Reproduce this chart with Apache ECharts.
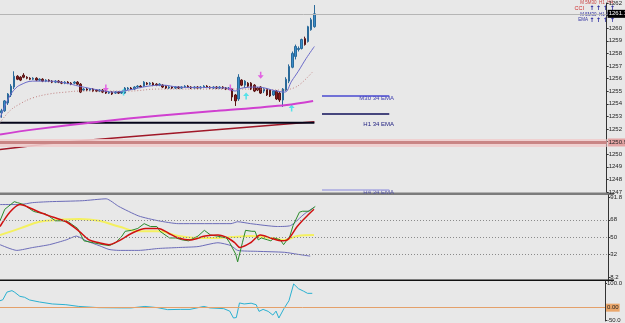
<!DOCTYPE html>
<html><head><meta charset="utf-8">
<script src="https://cdn.jsdelivr.net/npm/echarts@6/dist/echarts.min.js"></script>
<style>html,body{margin:0;padding:0;background:#e8e8e8;}#c{width:625px;height:323px;}</style>
</head><body><div id="c"></div>
<script>
// ---------- DATA ----------
const slotCount = 192;
// [open, close, low, high]
const candles = [
[1253.28,1253.44,1252.89,1253.60],[1253.44,1254.23,1253.36,1254.30],[1254.07,1254.78,1253.91,1254.85],[1254.70,1255.40,1254.54,1255.56],
[1255.33,1256.19,1255.17,1256.58],[1256.19,1255.95,1255.88,1256.27],[1256.11,1255.88,1255.80,1256.19],[1256.27,1256.11,1256.03,1256.43],
[1256.11,1256.03,1255.95,1256.19],[1256.03,1255.95,1255.88,1256.11],[1255.95,1256.03,1255.88,1256.11],[1256.03,1255.88,1255.80,1256.11],
[1255.88,1255.95,1255.80,1256.03],[1255.95,1255.80,1255.72,1256.03],[1255.80,1255.88,1255.72,1255.95],[1255.88,1255.80,1255.72,1255.95],
[1255.80,1255.72,1255.64,1255.88],[1255.72,1255.80,1255.64,1255.88],[1255.80,1255.72,1255.64,1255.88],[1255.72,1255.64,1255.56,1255.80],
[1255.64,1255.72,1255.56,1255.80],[1255.72,1255.64,1255.56,1255.80],[1255.64,1255.56,1255.48,1255.72],[1255.64,1255.72,1255.56,1255.80],
[1255.72,1255.56,1255.48,1255.80],[1255.56,1254.93,1254.85,1255.64],[1255.09,1255.17,1255.01,1255.25],[1255.17,1255.09,1255.01,1255.25],
[1255.09,1255.17,1255.01,1255.25],[1255.17,1255.01,1254.93,1255.25],[1255.09,1255.01,1254.93,1255.17],[1255.01,1255.09,1254.93,1255.17],
[1255.09,1254.93,1254.85,1255.17],[1255.01,1254.85,1254.78,1255.09],[1254.85,1254.93,1254.78,1255.01],[1254.93,1254.78,1254.70,1255.01],
[1254.85,1254.93,1254.78,1255.01],[1254.93,1254.85,1254.78,1255.01],[1254.85,1254.93,1254.78,1255.01],[1254.85,1255.25,1254.78,1255.33],
[1255.17,1255.25,1255.09,1255.33],[1255.25,1255.17,1255.09,1255.33],[1255.17,1255.33,1255.09,1255.40],[1255.33,1255.40,1255.25,1255.48],
[1255.40,1255.33,1255.25,1255.48],[1255.40,1255.72,1255.33,1255.80],[1255.64,1255.56,1255.48,1255.72],[1255.56,1255.64,1255.48,1255.72],
[1255.64,1255.48,1255.40,1255.72],[1255.56,1255.48,1255.40,1255.64],[1255.48,1255.56,1255.40,1255.64],[1255.48,1255.33,1255.25,1255.56],
[1255.40,1255.25,1255.17,1255.48],[1255.25,1255.33,1255.17,1255.40],[1255.33,1255.25,1255.17,1255.40],[1255.25,1255.33,1255.17,1255.40],
[1255.33,1255.25,1255.17,1255.40],[1255.25,1255.33,1255.17,1255.40],[1255.33,1255.40,1255.25,1255.48],[1255.40,1255.33,1255.25,1255.48],
[1255.33,1255.25,1255.17,1255.40],[1255.25,1255.33,1255.17,1255.40],[1255.33,1255.25,1255.17,1255.40],[1255.25,1255.33,1255.17,1255.40],
[1255.33,1255.40,1255.25,1255.48],[1255.40,1255.33,1255.25,1255.48],[1255.33,1255.25,1255.17,1255.40],[1255.25,1255.33,1255.17,1255.40],
[1255.33,1255.25,1255.17,1255.40],[1255.25,1255.33,1255.17,1255.40],[1255.33,1255.25,1255.17,1255.40],[1255.25,1255.17,1255.09,1255.33],
[1255.17,1255.25,1255.09,1255.33],[1255.17,1254.54,1254.23,1255.25],[1254.70,1254.23,1253.83,1254.78],[1254.38,1256.11,1254.23,1256.35],
[1255.88,1255.48,1255.40,1255.95],[1255.48,1255.80,1255.25,1255.88],[1255.64,1255.40,1255.33,1255.72],[1255.64,1255.17,1255.09,1255.72],
[1255.48,1255.01,1254.93,1255.56],[1255.25,1255.09,1255.01,1255.33],[1255.33,1254.85,1254.78,1255.40],[1255.01,1255.17,1254.85,1255.25],
[1255.17,1254.70,1254.62,1255.25],[1255.09,1254.62,1254.54,1255.17],[1254.70,1255.01,1254.62,1255.09],[1255.01,1254.38,1254.30,1255.09],
[1254.85,1254.30,1254.15,1254.93],[1254.30,1255.17,1253.75,1255.25],[1255.09,1255.95,1255.01,1256.11],[1255.80,1256.97,1255.64,1257.13],
[1256.90,1258.00,1256.82,1258.15],[1257.76,1258.55,1257.52,1258.70],[1258.31,1258.39,1258.15,1258.55],[1258.39,1259.10,1258.31,1259.17],
[1259.17,1258.70,1258.62,1259.33],[1258.94,1260.12,1258.86,1260.19],[1259.88,1260.67,1259.80,1260.82],[1260.12,1261.14,1260.04,1261.84]
];
const priceTicks = [1247,1248,1249,1250,1251,1252,1253,1254,1255,1256,1257,1258,1259,1260,1261,1262];
const currentPrice = 1261.14;
const redLevel = 1250.93;

const fastMaX = [-0.5,1.06,2.6,4.2,5.8,9.8,15.1,20.4,24.5,30.8,35.5,40.2,46.4,51.1,55.8,71.4,73.9,76.1,80.8,87.1,89.6,91.8,93.9,96.4,99];
const fastMaY = [1252.89,1253.83,1254.62,1255.17,1255.48,1255.80,1255.80,1255.64,1255.40,1255.09,1254.93,1255.09,1255.40,1255.48,1255.33,1255.25,1255.01,1255.25,1255.33,1255.01,1254.93,1255.80,1256.58,1257.60,1258.55];
const slowMaX = [-0.5,2.6,5.8,9.8,15.1,20.4,24.5,40.2,49.5,71.4,80.8,88.7,92.4,94.9,98.6];
const slowMaY = [1252.50,1253.44,1253.99,1254.46,1254.78,1254.93,1255.01,1255.01,1255.17,1255.17,1255.17,1255.09,1255.25,1255.64,1256.58];
const m30X = [-0.5,9.8,30.8,49.5,68.3,90.2,98.6];
const m30Y = [1251.56,1251.95,1252.58,1253.05,1253.44,1253.91,1254.23];
const blackX = [-0.5,99];
const blackY = [1252.50,1252.50];
const h4X = [-0.5,18.3,99];
const h4Y = [1250.38,1250.93,1252.58];
// arrows
const downArrowX = [33,72.4,82];
const downArrowY = [1255.25,1255.25,1256.27];
const upArrowX = [38.6,77.4,91.8];
const upArrowY = [1254.93,1254.62,1253.67];
// right side EMA level markers
const levelSegX = [101.4,122.7];
const levelM30 = 1254.62, levelH1 = 1253.20, levelH4 = 1247.16;
const levelNames = ['M30 34 EMA','H1 34 EMA','H4 34 EMA'];
// dashboard
const tfNames = 'M 5M30  H1  H4';
const arrowXs = [592, 598.5, 605.5, 612.5];

// TDI panel
const tdiTicks = [91.8,68,50,32,8.2];
const rsiX = [-0.5,1,4,5,7,10,11,14,17,19,21,24,26,29,32,34,36,38,39,41,43,45,47,49,50,53,55,57,59,62,64,66,68,71,72,73.9,74.5,76,77,79,80,81,82,84,85,86,88,89,91,92,94,95,97,99];
const rsiY = [67,79,87,86,84,77,76,74,67,67,66,59,46,44,42,41,44,51,56,57,59,64,61,61,56,49,49,47,46,51,57,52,51,49,44,32,24,44,57,56,56,47,49,47,46,49,47,42,51,62,76,77,77,82];
const sigX = [-0.5,2.6,5.8,7.9,12,16.1,20.4,24.5,27.6,30.8,33.9,37,41.1,45.5,49.5,52.7,55.8,59.8,64.2,68.3,71.4,73.6,75.2,78.6,81.7,84.9,88,90.2,93.3,96.4,98.6];
const sigY = [61,76,84,82,76,71,66,56,47,44,42,46,54,59,59,54,49,47,51,52,49,44,39,44,52,49,46,47,61,72,79];
const baseX = [-0.5,5.8,12,18.3,24.5,30.8,37,43.3,49.5,55.8,62,68.3,72.4,78.6,84.9,89.3,93.3,98.6];
const baseY = [52,59,66,68,69,67,61,56,56,51,49,49,50,51,49,47,51,52];
const upBandX = [-0.5,5.8,9.8,15.1,25.5,33,37,43.3,49.5,55.8,72.4,74.5,78.6,87.1,91.2,95.5,98.6];
const upBandY = [84,84,86,87,88,90,82,72,67,64,64,66,64,61,62,74,81];
const loBandX = [-0.5,4.8,9.8,15.1,20.4,23.6,26.7,30.8,33.9,37,43.3,49.5,55.8,62,68.3,72.4,74.5,80.8,89.3,93.3,97.4];
const loBandY = [42,36,39,42,47,51,46,41,37,36,36,38,39,40,44,41,36,35,34,32,30];

// CCI panel
const cciTicks = [100,-50];
const cciX = [-0.5,0.4,1.7,3.3,4.2,5.8,7.3,8.9,12,16.1,20.4,24.5,30.8,38,41.1,45.5,49.5,52.7,56.7,59.8,64.2,66.1,70.5,72.4,73.6,74.5,75.5,77,79.2,80.8,81.7,83,84.6,86.1,87.1,88,89.6,91.2,92.7,94.2,95.8,97.1,98.6];
const cciY = [28,32,63,69,62,46,42,31,23,15,12,5,0,-1,-1,5,0,-8,-7,-7,5,-1,-4,-14,-42,-40,19,15,18,12,-15,-7,-15,-30,-14,-42,-4,28,96,77,67,58,58];

// ---------- CHART ----------
const pairs = (xs, ys) => xs.map((x, i) => [x, ys[i]]);
const slots = Array.from({length: slotCount}, (_, i) => String(i));
const FONT = 'Liberation Sans';
const lbl = {fontSize: 6, color: '#222', fontFamily: FONT, margin: 2};
const gridLeft = 0, gridRight = 11;

const chart = echarts.init(document.getElementById('c'), null, {renderer: 'canvas'});
const valX = (gi) => ({type: 'value', gridIndex: gi, min: -0.5, max: slotCount - 0.5, show: false});
const downPath = 'path://M3,0 L5,0 L5,4 L8,4 L4,8 L0,4 L3,4 Z';
const upPath = 'path://M4,0 L8,4 L5,4 L5,8 L3,8 L3,4 L0,4 Z';
const axisLine = {show: true, onZero: false, lineStyle: {color: '#333', width: 1}};

const lineS = (xi, yi, data, color, width, extra) => Object.assign({
  type: 'line', xAxisIndex: xi, yAxisIndex: yi, data, symbol: 'none', silent: true,
  lineStyle: {color, width}, animation: false
}, extra || {});

const txt = (x, y, text, size, fill, align, extra) => ({type: 'text', x, y, silent: true,
  style: Object.assign({text, fontSize: size, fontFamily: FONT, fill, align: align || 'left', verticalAlign: 'middle'}, extra || {})});

const graphics = [
  {type: 'rect', shape: {x: 0, y: 192.5, width: 614, height: 2.5}, style: {fill: '#7c7c7c'}, silent: true},
  {type: 'rect', shape: {x: 0, y: 279.5, width: 614, height: 1.5}, style: {fill: '#111'}, silent: true},
  txt(394, 98, levelNames[0], 6, '#4040b0', 'right'),
  txt(394, 124, levelNames[1], 6, '#202080', 'right'),
  txt(394, 192, levelNames[2], 6, '#5050a0', 'right'),
  txt(613, 3, tfNames, 4.5, '#c84040', 'right'),
  txt(584, 8, 'CCI', 5.5, '#d03030', 'right'),
  txt(613, 15, tfNames, 4.5, '#3030a0', 'right'),
  txt(588, 20, 'EMA', 4.5, '#3030a0', 'right')
];
arrowXs.forEach(ax => {
  graphics.push(txt(ax, 8, '↑', 6, '#1a1a9a', 'center', {fontWeight: 'bold', fontFamily: 'DejaVu Sans'}));
  graphics.push(txt(ax, 20, '↑', 6, '#1a1a9a', 'center', {fontWeight: 'bold', fontFamily: 'DejaVu Sans'}));
});

const option = {
  backgroundColor: '#e8e8e8',
  animation: false,
  grid: [
    {left: gridLeft, right: gridRight, top: 1, height: 191},
    {left: gridLeft, right: gridRight, top: 195, height: 85},
    {left: gridLeft, right: gridRight, top: 281, height: 42}
  ],
  xAxis: [
    {type: 'category', gridIndex: 0, data: slots, boundaryGap: true, show: false},
    valX(0), valX(1), valX(2)
  ],
  yAxis: [
    {type: 'value', gridIndex: 0, position: 'right', min: 1247, max: 1262, interval: 1,
     axisLine: axisLine,
     axisTick: {show: true, length: 2, lineStyle: {color: '#333'}},
     axisLabel: Object.assign({}, lbl, {customValues: priceTicks, formatter: v => String(v)}),
     splitLine: {show: false}},
    {type: 'value', gridIndex: 1, position: 'right', min: 5, max: 94,
     axisLine: axisLine,
     axisTick: {show: true, length: 2, customValues: tdiTicks, lineStyle: {color: '#333'}},
     axisLabel: Object.assign({}, lbl, {customValues: tdiTicks, formatter: v => String(v)}),
     splitLine: {show: false}},
    {type: 'value', gridIndex: 2, position: 'right', min: -54, max: 108,
     axisLine: axisLine,
     axisTick: {show: true, length: 2, customValues: cciTicks, lineStyle: {color: '#333'}},
     axisLabel: Object.assign({}, lbl, {customValues: cciTicks, formatter: v => v.toFixed(1)}),
     splitLine: {show: false}}
  ],
  series: [
    lineS(1, 0, [], '#000', 0, {markLine: {symbol: 'none', silent: true, animation: false, data: [
      {yAxis: redLevel, lineStyle: {color: 'rgba(240,205,205,0.9)', width: 8, type: 'solid'}, label: {show: false}},
      {yAxis: redLevel, lineStyle: {color: '#c98585', width: 3, type: 'solid'},
       label: {show: true, position: 'end', distance: 1, formatter: redLevel.toFixed(2), fontSize: 6, fontFamily: FONT, color: '#222', backgroundColor: '#e3a4a4', padding: [1, 1]}},
      {yAxis: currentPrice, lineStyle: {color: '#b5b5b5', width: 1, type: 'solid'},
       label: {show: true, position: 'end', distance: 1, formatter: currentPrice.toFixed(2), fontSize: 6, fontFamily: FONT, color: '#fff', backgroundColor: '#000', padding: [1, 1]}}
    ]}}),
    lineS(1, 0, pairs(h4X, h4Y), '#a01828', 1.5),
    lineS(1, 0, pairs(blackX, blackY), '#05051a', 2),
    lineS(1, 0, pairs(m30X, m30Y), '#d040d0', 2, {smooth: 0.3}),
    lineS(1, 0, pairs(slowMaX, slowMaY), '#c48a8a', 1, {smooth: 0.4, lineStyle: {color: '#c08080', width: 1, type: [1, 2]}}),
    lineS(1, 0, pairs(fastMaX, fastMaY), '#6a6ac8', 1, {smooth: 0.4}),
    lineS(1, 0, pairs(levelSegX, [levelM30, levelM30]), '#4a4ad0', 1.5),
    lineS(1, 0, pairs(levelSegX, [levelH1, levelH1]), '#10105a', 1.5),
    lineS(1, 0, pairs(levelSegX, [levelH4, levelH4]), '#a8a8e0', 1.5),
    {type: 'candlestick', xAxisIndex: 0, yAxisIndex: 0, data: candles, barWidth: 2, silent: true,
     itemStyle: {color: '#3a8cc8', color0: '#8a1c1c', borderColor: '#2a6a9a', borderColor0: '#5a1414', borderWidth: 1}},
    {type: 'scatter', xAxisIndex: 1, yAxisIndex: 0, data: pairs(downArrowX, downArrowY), symbol: downPath, symbolSize: [6, 7], silent: true, itemStyle: {color: '#e040e0'}},
    {type: 'scatter', xAxisIndex: 1, yAxisIndex: 0, data: pairs(upArrowX, upArrowY), symbol: upPath, symbolSize: [6, 7], silent: true, itemStyle: {color: '#30e0e8'}},
    lineS(2, 1, [], '#000', 0, {markLine: {symbol: 'none', silent: true, label: {show: false},
      lineStyle: {color: '#8a8a8a', width: 1, type: [1, 2]}, data: [{yAxis: 68}, {yAxis: 50}, {yAxis: 32}]}}),
    lineS(2, 1, pairs(upBandX, upBandY), '#6c6cb8', 1, {smooth: 0.2}),
    lineS(2, 1, pairs(loBandX, loBandY), '#6c6cb8', 1, {smooth: 0.2}),
    lineS(2, 1, pairs(baseX, baseY), '#f4f060', 2, {smooth: 0.4}),
    lineS(2, 1, pairs(rsiX, rsiY), '#2a8a2a', 1),
    lineS(2, 1, pairs(sigX, sigY), '#d01010', 1.5, {smooth: 0.3}),
    lineS(3, 2, [], '#000', 0, {markLine: {symbol: 'none', silent: true, data: [
      {yAxis: 0, lineStyle: {color: '#e4a06a', width: 1, type: 'solid'},
       label: {show: true, position: 'end', distance: 1, formatter: '0.00', fontSize: 6, fontFamily: FONT, color: '#222', backgroundColor: '#eaa66a', padding: [1, 1]}}
    ]}}),
    lineS(3, 2, pairs(cciX, cciY), '#2ab0d0', 1)
  ],
  graphic: graphics
};
chart.setOption(option);
</script>
</body></html>
